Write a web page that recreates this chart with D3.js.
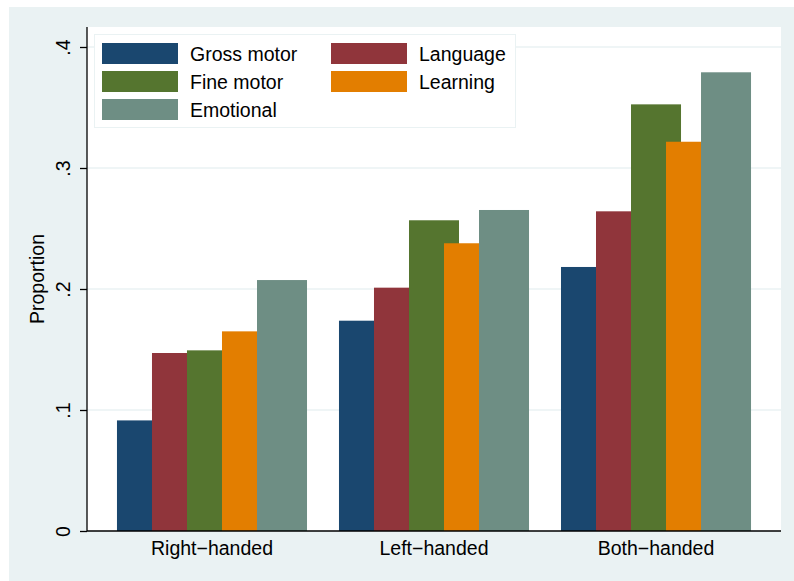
<!DOCTYPE html>
<html>
<head>
<meta charset="utf-8">
<script src="https://cdn.jsdelivr.net/npm/d3@7"></script>
<style>
  body { margin: 0; background: #fff; }
  text { font-family: "Liberation Sans", Arial, sans-serif; fill: #000; }
</style>
</head>
<body>
<div id="chart"></div>
<script>
// data
const categories = ["Right-handed", "Left-handed", "Both-handed"];
const series = ["Gross motor", "Language", "Fine motor", "Learning", "Emotional"];
const grossMotor = [0.0914, 0.1738, 0.2182];
const language   = [0.1471, 0.2011, 0.2642];
const fineMotor  = [0.1493, 0.2568, 0.3526];
const learning   = [0.1650, 0.2378, 0.3217];
const emotional  = [0.2074, 0.2653, 0.3791];
const yTicks = [0, 0.1, 0.2, 0.3, 0.4];
const yTickLabels = ["0", ".1", ".2", ".3", ".4"];

const values = [grossMotor, language, fineMotor, learning, emotional];
const colors = ["#1a476f", "#90353b", "#55752f", "#e37e00", "#6e8e84"];

const width = 794, height = 581;
const plot = {left: 87, right: 781, top: 27, bottom: 531};

const svg = d3.select("#chart").append("svg")
    .attr("width", width)
    .attr("height", height);

// graph region
svg.append("rect")
    .attr("x", 9).attr("y", 7)
    .attr("width", width - 9).attr("height", height - 7)
    .attr("fill", "#eaf2f3");

svg.append("rect")
    .attr("x", plot.left).attr("y", plot.top)
    .attr("width", plot.right - plot.left)
    .attr("height", plot.bottom - plot.top)
    .attr("fill", "#fff");

const y = d3.scaleLinear()
    .domain([0, 0.4 + 20 / 1210])
    .range([plot.bottom, plot.top]);

const x = d3.scaleBand()
    .domain(categories)
    .range([plot.left, plot.right])
    .paddingInner(0.144)
    .paddingOuter(0.135);

// bars overlap: each one is wider than the step to the next
const bw = x.bandwidth();
const barStep = bw * 35 / 190;
const barW = bw * 50 / 190;

// grid
svg.append("g")
    .selectAll("line")
    .data(yTicks.slice(1))
    .enter().append("line")
    .attr("x1", plot.left).attr("x2", plot.right)
    .attr("y1", d => y(d)).attr("y2", d => y(d))
    .attr("stroke", "#eaf2f3")
    .attr("stroke-width", 1.5);

// bars
series.forEach((s, i) => {
    svg.append("g")
        .selectAll("rect")
        .data(values[i])
        .enter().append("rect")
        .attr("x", (d, j) => x(categories[j]) + i * barStep)
        .attr("y", d => y(d))
        .attr("width", barW)
        .attr("height", d => y(0) - y(d))
        .attr("fill", colors[i]);
});

// y axis
const yAxis = svg.append("g")
    .attr("transform", `translate(${plot.left},0)`)
    .call(d3.axisLeft(y).tickValues(yTicks)
          .tickFormat((d, i) => yTickLabels[i])
          .tickSize(7).tickPadding(0));
yAxis.select(".domain").attr("d", `M0,${plot.top}V${plot.bottom}`).attr("stroke", "#000").attr("stroke-width", 1.3);
yAxis.selectAll(".tick line").attr("stroke", "#000").attr("stroke-width", 1.3);
yAxis.selectAll(".tick text")
    .attr("x", null).attr("dy", null)
    .attr("transform", "translate(-17,0) rotate(-90)")
    .attr("text-anchor", "middle")
    .style("font-size", "19.5px")
    .style("font-family", "Liberation Sans, Arial, sans-serif");

// x axis
const xAxis = svg.append("g")
    .attr("transform", `translate(0,${plot.bottom})`)
    .call(d3.axisBottom(x).tickSize(0).tickPadding(0));
xAxis.select(".domain").attr("d", `M${plot.left},0H${plot.right}`).attr("stroke", "#000").attr("stroke-width", 1.3);
xAxis.selectAll(".tick text")
    .attr("y", 24).attr("dy", null)
    .text(d => d.replace("-", "\u2212"))
    .style("font-size", "19.5px")
    .style("font-family", "Liberation Sans, Arial, sans-serif");

// y title
svg.append("text")
    .attr("transform", `translate(44,${(plot.top + plot.bottom) / 2}) rotate(-90)`)
    .attr("text-anchor", "middle")
    .style("font-size", "19.5px")
    .text("Proportion");

// legend
const legend = svg.append("g");
legend.append("rect")
    .attr("x", 94.5).attr("y", 34.5)
    .attr("width", 421).attr("height", 93)
    .attr("fill", "#fff")
    .attr("stroke", "#eaf2f3")
    .attr("stroke-width", 1);

const legX = [102, 331], legY = [43, 71, 99];
series.forEach((s, i) => {
    const col = i % 2, row = Math.floor(i / 2);
    legend.append("rect")
        .attr("x", legX[col]).attr("y", legY[row])
        .attr("width", 76).attr("height", 21)
        .attr("fill", colors[i]);
    legend.append("text")
        .attr("x", legX[col] + 88).attr("y", legY[row] + 17.5)
        .style("font-size", "19.5px")
        .text(s);
});
</script>
</body>
</html>
